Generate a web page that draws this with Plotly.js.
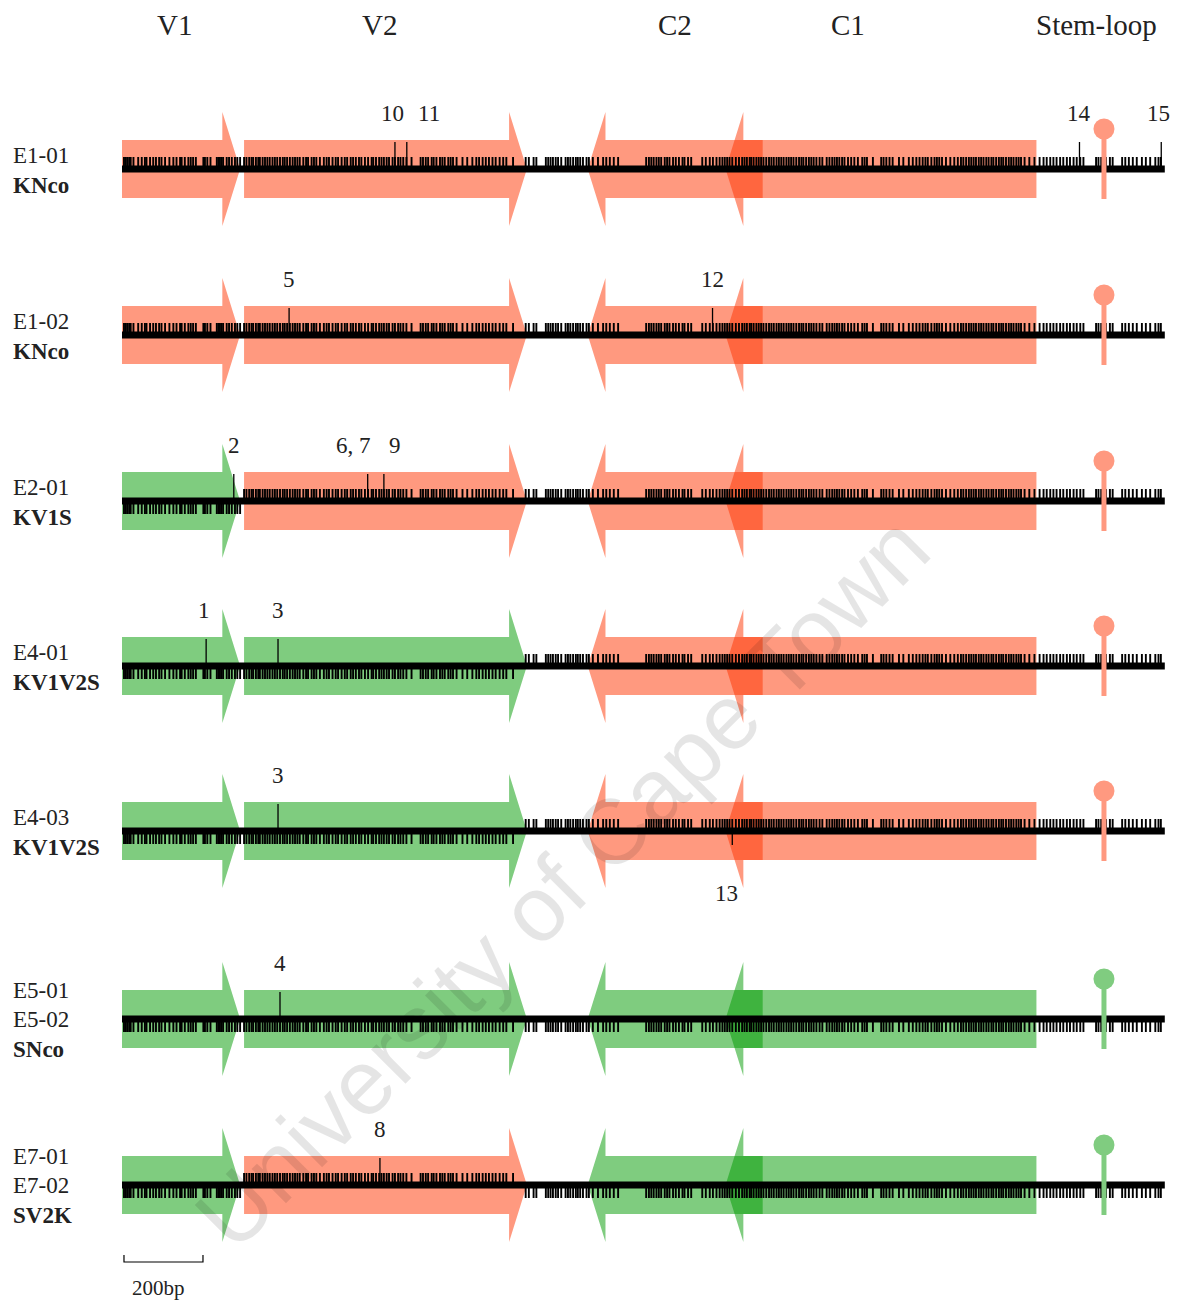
<!DOCTYPE html>
<html>
<head>
<meta charset="utf-8">
<script src="https://cdn.plot.ly/plotly-3.0.1.min.js"></script>
<style>html,body{margin:0;padding:0;background:#fff;}#chart{width:1181px;height:1302px;}</style>
</head>
<body>
<div id="chart"></div>
<script>
// ---------------- DATA ----------------
// Genes (bp along the construct)
const geneNames  = ['V1', 'V2', 'C2', 'C1'];
const geneStart  = [0, 309, 1179, 1528];
const geneEnd    = [299, 1025, 1622, 2315];
const geneStrand = [1, 1, -1, -1];
const stemLoopBp = 2486;
const totalBp    = 2640;
const scaleBarBp = 200;

// Header labels
const headerText = ['V1', 'V2', 'C2', 'C1', 'Stem-loop'];
const headerBp   = [134, 653, 1399, 1839, 2467];

// Rows
const rowIds        = [['E1-01'], ['E1-02'], ['E2-01'], ['E4-01'], ['E4-03'], ['E5-01', 'E5-02'], ['E7-01', 'E7-02']];
const rowConstructs = ['KNco', 'KNco', 'KV1S', 'KV1V2S', 'KV1V2S', 'SNco', 'SV2K'];
// codon-usage type per gene (V1, V2, C2, C1): K = red, S = green
const rowGeneType = [
  ['K','K','K','K'],
  ['K','K','K','K'],
  ['S','K','K','K'],
  ['S','S','K','K'],
  ['S','S','K','K'],
  ['S','S','S','S'],
  ['S','K','S','S']
];
// segment boundaries for tick orientation (V1 | V2 | rest)
const segBounds = [304, 1000];

// Difference sites (bp)
const siteBp = [5,9,13,18,22,29,41,50,58,62,71,79,86,94,100,109,120,130,138,147,151,159,168,174,180,187,206,210,216,224,240,244,248,252,256,265,271,278,286,292,299,309,315,322,328,332,339,345,349,356,362,368,374,381,387,393,400,407,412,418,425,432,438,444,450,459,466,471,480,486,492,501,511,518,524,533,
541,547,556,564,570,579,585,592,600,606,615,623,632,636,643,651,657,663,670,676,685,691,699,705,712,720,733,756,762,769,775,784,789,796,805,811,817,826,832,838,847,862,874,887,897,904,913,921,929,938,946,956,965,973,990,1022,1030,1042,1049,
1073,1079,1085,1091,1098,1104,1112,1123,1129,1135,1142,1149,1154,1160,1167,1176,1182,1192,1205,1218,1226,1235,1245,1256,1327,1334,1340,1346,1353,1359,1365,1374,1380,1386,1395,1402,1410,1419,1424,1433,1441,1469,1478,1488,1496,1505,1513,1520,1526,1532,1538,1545,1554,1562,1570,1576,1582,1589,
1593,1599,1606,1612,1618,1624,1631,1638,1644,1650,1657,1663,1669,1675,1682,1688,1694,1700,1707,1714,1720,1725,1732,1739,1745,1751,1758,1766,1773,1784,1791,1798,1804,1810,1816,1823,1829,1838,1846,1854,1863,1874,1880,1886,1901,1922,1928,1935,1943,1951,1967,1978,1992,2002,2011,2019,2027,2034,2040,2049,2057,2063,2069,2076,2086,2097,2107,2116,2124,2130,
2137,2144,2150,2156,2162,2169,2175,2181,2188,2194,2201,2206,2213,2220,2226,2231,2238,2245,2251,2257,2264,2270,2276,2285,2297,2310,2323,2333,2341,2350,2358,2366,2375,2383,2392,2400,2409,2417,2426,2434,2466,2472,2479,2491,2501,2508,2532,2540,2549,2559,2569,2582,2592,2603,2616,2624,2630];

// Numbered mutations
const mutRow     = [0, 0, 0, 0, 1, 1, 2, 2, 2, 3, 3, 4, 4, 5, 6];
const mutLabel   = ['10','11','14','15','5','12','2','6, 7','9','1','3','3','13','4','8'];
const mutBp      = [691, 721, 2424, 2631, 423, 1495, 283, 622, 663, 213, 395, 395, 1545, 400, 653];
const mutLabelBp = [686, 777, 2424, 2624, 423, 1495, 283, 587, 691, 207, 395, 395, 1531, 400, 653];
const mutSide    = [1, 1, 1, 1, 1, 1, 1, 1, 1, 1, 1, 1, -1, 1, 1];

// ---------------- LAYOUT / STYLE ----------------
const W = 1181, H = 1302;
const pxPerBp = 79 / 200, x0px = 122;
const rowCenter = [169, 335, 501, 666, 831, 1019, 1185];
const FILL = {K: 'rgba(255,51,0,0.5)', S: 'rgba(0,153,0,0.5)'};
const SOLID = {K: 'rgb(255,153,128)', S: 'rgb(128,204,128)'};
const SERIF = '"Liberation Serif", "DejaVu Serif", serif';
const bodyH = 29, headH = 57, headL = 45;

const shapes = [];
const traces = [];
const annotations = [];

function arrowPath(s, e, strand, c) {
  if (strand > 0) {
    return `M ${s},${c-bodyH} L ${e-headL},${c-bodyH} L ${e-headL},${c-headH} L ${e},${c} L ${e-headL},${c+headH} L ${e-headL},${c+bodyH} L ${s},${c+bodyH} Z`;
  }
  return `M ${e},${c-bodyH} L ${s+headL},${c-bodyH} L ${s+headL},${c-headH} L ${s},${c} L ${s+headL},${c+headH} L ${s+headL},${c+bodyH} L ${e},${c+bodyH} Z`;
}
function segType(r, bp) {
  const t = rowGeneType[r];
  if (bp < segBounds[0]) return t[0];
  if (bp < segBounds[1]) return t[1];
  return t[2];
}

rowCenter.forEach((c, r) => {
  // arrows
  geneNames.forEach((g, i) => {
    shapes.push({type: 'path', xref: 'x', yref: 'y', layer: 'below',
      path: arrowPath(geneStart[i], geneEnd[i], geneStrand[i], c),
      fillcolor: FILL[rowGeneType[r][i]], line: {width: 0}});
  });
  // ticks
  const xs = [], ys = [];
  siteBp.forEach(bp => {
    const up = segType(r, bp) === 'K';
    xs.push(bp, bp, null);
    ys.push(c, up ? c - 12 : c + 13, null);
  });
  traces.push({x: xs, y: ys, mode: 'lines', line: {color: '#000', width: 1.9}, hoverinfo: 'skip', showlegend: false});
  // backbone line
  traces.push({x: [0, totalBp], y: [c, c], mode: 'lines', line: {color: '#000', width: 7}, hoverinfo: 'skip', showlegend: false});
  // stem loop
  const slType = rowGeneType[r][3];
  traces.push({x: [stemLoopBp, stemLoopBp], y: [c - 40, c + 30], mode: 'lines', line: {color: SOLID[slType], width: 5}, hoverinfo: 'skip', showlegend: false});
  traces.push({x: [stemLoopBp], y: [c - 40], mode: 'markers', marker: {color: SOLID[slType], size: 21, line: {width: 0}}, hoverinfo: 'skip', showlegend: false});
  // row labels
  const ids = rowIds[r];
  const lines = ids.concat(['<b>' + rowConstructs[r] + '</b>']);
  const offs = lines.length === 2 ? [-14, 16] : [-29, 0, 30];
  lines.forEach((t, k) => {
    annotations.push({xref: 'paper', yref: 'y', x: 11 / W, y: c + offs[k], xanchor: 'left', yanchor: 'middle',
      text: t, showarrow: false, font: {family: SERIF, size: 23, color: '#222'}});
  });
});

// numbered mutations
const mx = [], my = [];
mutBp.forEach((bp, i) => {
  const c = rowCenter[mutRow[i]];
  mx.push(bp, bp, null);
  my.push(c, mutSide[i] > 0 ? c - 27 : c + 14, null);
  annotations.push({xref: 'x', yref: 'y', x: mutLabelBp[i], y: mutSide[i] > 0 ? c - 56 : c + 62,
    text: mutLabel[i], showarrow: false, xanchor: 'center', yanchor: 'middle',
    font: {family: SERIF, size: 23, color: '#222'}});
});
traces.push({x: mx, y: my, mode: 'lines', line: {color: '#000', width: 1.3}, hoverinfo: 'skip', showlegend: false});

// headers
headerText.forEach((t, i) => {
  annotations.push({xref: 'x', yref: 'y', x: headerBp[i], y: 25, text: t, showarrow: false,
    xanchor: 'center', yanchor: 'middle', font: {family: SERIF, size: 29, color: '#222'}});
});

// scale bar
const sb0 = 5, sb1 = sb0 + scaleBarBp;
shapes.push({type: 'path', xref: 'x', yref: 'y', path: `M ${sb0},1255 L ${sb0},1262 L ${sb1},1262 L ${sb1},1255`,
  line: {color: '#000', width: 1.2}});
annotations.push({xref: 'x', yref: 'y', x: (sb0 + sb1) / 2 - 12, y: 1288, text: scaleBarBp + 'bp', showarrow: false,
  xanchor: 'center', yanchor: 'middle', font: {family: SERIF, size: 21, color: '#222'}});

// watermark
annotations.push({xref: 'paper', yref: 'paper', x: 562 / W, y: 1 - 882 / H, text: 'University of Cape Town',
  showarrow: false, textangle: -45, xanchor: 'center', yanchor: 'middle',
  font: {family: '"Liberation Sans", Arial, sans-serif', size: 92, color: 'rgba(0,0,0,0.1)'}});

const layout = {
  width: W, height: H,
  margin: {l: 0, r: 0, t: 0, b: 0},
  paper_bgcolor: '#fff', plot_bgcolor: '#fff',
  showlegend: false,
  xaxis: {range: [-x0px / pxPerBp, (W - x0px) / pxPerBp], visible: false, fixedrange: true},
  yaxis: {range: [H, 0], visible: false, fixedrange: true},
  shapes: shapes,
  annotations: annotations
};
Plotly.newPlot('chart', traces, layout, {staticPlot: true, displayModeBar: false});
</script>
</body>
</html>
